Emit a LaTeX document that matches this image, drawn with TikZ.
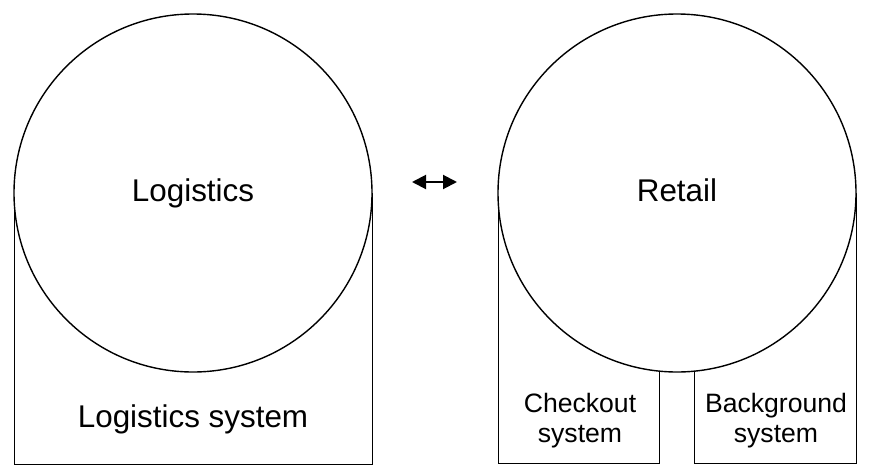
\documentclass[tikz,border=0pt]{standalone}
\usepackage{fontspec}
\setmainfont{Liberation Sans}
\usetikzlibrary{arrows.meta}
\begin{document}
\begin{tikzpicture}[x=1pt,y=-1pt,
  shape line/.style={draw=black, line width=1.4pt},
  boxshape/.style={shape line, rectangle, inner sep=0pt, anchor=north west},
  ball/.style={shape line, circle, fill=white, inner sep=0pt, minimum size=358pt,
    font=\fontsize{31.4}{36}\selectfont, text height=22.6pt, text depth=6.6pt},
  biglabel/.style={font=\fontsize{31.4}{36}\selectfont, inner sep=0pt, anchor=base},
  smalllabel/.style={font=\fontsize{26.6}{29.5}\selectfont, inner sep=0pt, anchor=base},
  link/.style={line width=2pt, {Triangle[length=14pt,width=14pt]}-{Triangle[length=14pt,width=14pt]}}]
\useasboundingbox (0,0) rectangle (870,466);
% boxes
\node[boxshape, minimum width=358pt, minimum height=271pt] (logbox) at (14,193) {};
\node[boxshape, minimum width=161pt, minimum height=270pt] (checkbox) at (498,193) {};
\node[boxshape, minimum width=162pt, minimum height=270pt] (backbox) at (694,193) {};
% circles
\node[ball] (logistics) at (193,193) {Logistics};
\node[ball] (retail) at (677,193) {Retail};
% labels
\node[biglabel] (logsys) at (193,427) {Logistics system};
\node[smalllabel] (check1) at (580,412) {Checkout};
\node[smalllabel] (check2) at (580,442) {system};
\node[smalllabel] (back1) at (776,412) {Background};
\node[smalllabel] (back2) at (776,442) {system};
% arrow
\coordinate (al) at (412,182);
\coordinate (ar) at (457,182);
\draw[link] (al) -- (ar);
\end{tikzpicture}
\end{document}
